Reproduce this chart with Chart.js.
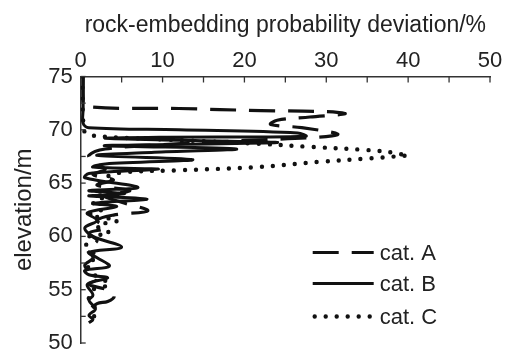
<!DOCTYPE html>
<html>
<head>
<meta charset="utf-8">
<script src="https://cdn.jsdelivr.net/npm/chart.js@4.4.1/dist/chart.umd.min.js"></script>
<style>
html,body{margin:0;padding:0;background:#fff;}
#wrap{width:510px;height:351px;position:relative;}
</style>
</head>
<body>
<div id="wrap"><canvas id="c" width="510" height="351"></canvas></div>
<script>
// ---- data (deviation %, elevation m) ----
const seriesNames = ["cat. A", "cat. B", "cat. C"];
const xTickValues = [0, 10, 20, 30, 40, 50];
const yTickValues = [50, 55, 60, 65, 70, 75];
const xMinorStep = 5;
const yMinorStep = 2.5;

const catA_dev  = [0.3,0.3,0.5,12,22,30,32.3,28,24,23.2,27,31.4,29,20,10,3,1,1.5,3,1.5,4,2,6,3,5,8.2,4,2,3,1,2,0.8,1.5,0.5,1.2,2,1,3.2,4.1,3.3,2,1,0.8];
const catA_elev = [75,73,72.2,72,71.8,71.7,71.5,71.2,70.9,70.5,70.2,69.6,69.3,69.0,68.6,68.2,67.6,67,66.3,65.8,65.3,64.8,64.3,63.8,63.2,62.4,62,61.5,60.8,60.3,59.6,58.8,58,57.3,56.6,56,55.5,55,54.4,53.9,53.7,53,52.5];

const catB_dev  = [0.3,0.3,0.3,1,12,26.5,27.5,10,3,14,24,8,3,19,9,2,13.7,3,1.5,9.5,1,0.5,7,1,5.4,1,8.1,1.5,4.4,0.8,2,0.5,1.5,5,1,2,3.5,0.5,1,3.3,0.8,1.5,1,1.8,1,1.5,1];
const catB_elev = [75,72,70.6,70.2,70.0,69.7,69.4,69.3,69.2,69.0,68.8,68.6,68.5,68.2,67.9,67.6,67.2,66.8,66.5,66.3,65.9,65.5,64.6,64.3,64.0,63.8,63.5,63.1,62.8,62.2,61.5,60.8,60.0,59.0,58.5,58.0,57.2,56.8,56.4,56.1,55.5,54.5,54.0,53.2,52.6,52.2,51.9];

const catC_dev  = [0.2,0.4,1,10,21.5,28,35,38.8,39.5,40,35,29.2,21.5,12,5.1,3,2,3,1.5,2.5,1,4.5,2,3.5,1,0.5,1.5,2,0.8,1.5,3.5,1.5,1,2,1];
const catC_elev = [75,70,69.5,69.1,68.7,68.4,68.1,67.8,67.6,67.6,67.3,67,66.5,66.2,66,65.5,64.5,63.8,63.2,62.5,62,61.5,61,60.3,60,59.5,58.5,58,57.5,56.5,55.5,55,54,53,52];

// ---- styling ----
const FONT = "'Liberation Sans', Arial, sans-serif";
const INK = '#111';
const AXIS = '#333';
const TXT = '#222';

function pts(xs, ys){ return xs.map((v,i)=>({x:v, y:ys[i]})); }

const datasets = [
  {label: seriesNames[0], data: pts(catA_dev, catA_elev), borderDash:[26,13], borderWidth:3.2},
  {label: seriesNames[1], data: pts(catB_dev, catB_elev), borderDash:[], borderWidth:3},
  {label: seriesNames[2], data: pts(catC_dev, catC_elev), borderDash:[0,11], borderWidth:4.4, borderCapStyle:'round'}
].map(d => Object.assign({
  showLine:true, pointRadius:0, pointHoverRadius:0, borderColor:INK, backgroundColor:INK,
  tension:0.35, fill:false, borderCapStyle:'butt', borderJoinStyle:'round'
}, d));

const innerTicks = {
  id:'innerTicks',
  afterDraw(chart){
    const {ctx, chartArea:a} = chart;
    const xs = chart.scales.x, ys = chart.scales.y;
    ctx.save();
    ctx.strokeStyle = AXIS; ctx.lineWidth = 1.3;
    for (let v = xs.min; v <= xs.max + 1e-9; v += xMinorStep){
      const p = xs.getPixelForValue(v);
      ctx.beginPath(); ctx.moveTo(p, a.top); ctx.lineTo(p, a.top + 6); ctx.stroke();
    }
    for (let v = ys.min; v <= ys.max + 1e-9; v += yMinorStep){
      const p = ys.getPixelForValue(v);
      ctx.beginPath(); ctx.moveTo(a.left, p); ctx.lineTo(a.left + 5, p); ctx.stroke();
    }
    ctx.restore();
  }
};

const innerLegend = {
  id:'innerLegend',
  afterDraw(chart){
    const {ctx, chartArea:a} = chart;
    const x0 = a.left + 232, len = 61, tx = x0 + len + 6;
    const rows = [a.top + 176, a.top + 207, a.top + 240];
    ctx.save();
    chart.data.datasets.forEach((d, i) => {
      const y = rows[i];
      ctx.strokeStyle = d.borderColor; ctx.lineWidth = d.borderWidth;
      ctx.setLineDash(d.borderDash || []);
      ctx.lineCap = d.borderCapStyle || 'butt';
      ctx.beginPath();
      if (i === 2) { ctx.moveTo(x0 + 2, y); ctx.lineTo(x0 + len, y); }
      else { ctx.moveTo(x0, y); ctx.lineTo(x0 + len, y); }
      ctx.stroke();
      ctx.setLineDash([]);
      ctx.fillStyle = TXT;
      ctx.font = '22px ' + FONT;
      ctx.textBaseline = 'middle'; ctx.textAlign = 'left';
      ctx.fillText(d.label, tx, y + 1);
    });
    ctx.restore();
  }
};

new Chart(document.getElementById('c'), {
  type:'scatter',
  data:{datasets},
  plugins:[innerTicks, innerLegend],
  options:{
    responsive:false, animation:false, devicePixelRatio:1,
    layout:{padding:{left:0, right:20, top:0, bottom:8}},
    plugins:{legend:{display:false}, tooltip:{enabled:false}},
    scales:{
      x:{
        type:'linear', position:'top', min:0, max:50,
        afterBuildTicks(s){ s.ticks = xTickValues.map(v=>({value:v})); },
        afterFit(s){ s.height = 76.5; s.paddingLeft = 0; s.paddingRight = 0; },
        grid:{display:true, drawOnChartArea:false, drawTicks:false},
        border:{display:true, color:AXIS, width:1.5},
        ticks:{color:TXT, font:{family:FONT, size:22}, padding:2, maxRotation:0, autoSkip:false},
        title:{display:true, text:'rock-embedding probability deviation/%', color:TXT,
               font:{family:FONT, size:23}, padding:{top:12, bottom:0}}
      },
      y:{
        type:'linear', position:'left', min:50, max:75,
        afterBuildTicks(s){ s.ticks = yTickValues.map(v=>({value:v})); },
        afterFit(s){ s.width = 80.7; s.paddingTop = 0; s.paddingBottom = 0; },
        grid:{display:true, drawOnChartArea:false, drawTicks:false},
        border:{display:true, color:AXIS, width:1.5},
        ticks:{color:TXT, font:{family:FONT, size:22}, padding:8, autoSkip:false},
        title:{display:true, text:'elevation/m', color:TXT,
               font:{family:FONT, size:24}, padding:{top:10, bottom:0}}
      }
    }
  }
});
</script>
</body>
</html>
